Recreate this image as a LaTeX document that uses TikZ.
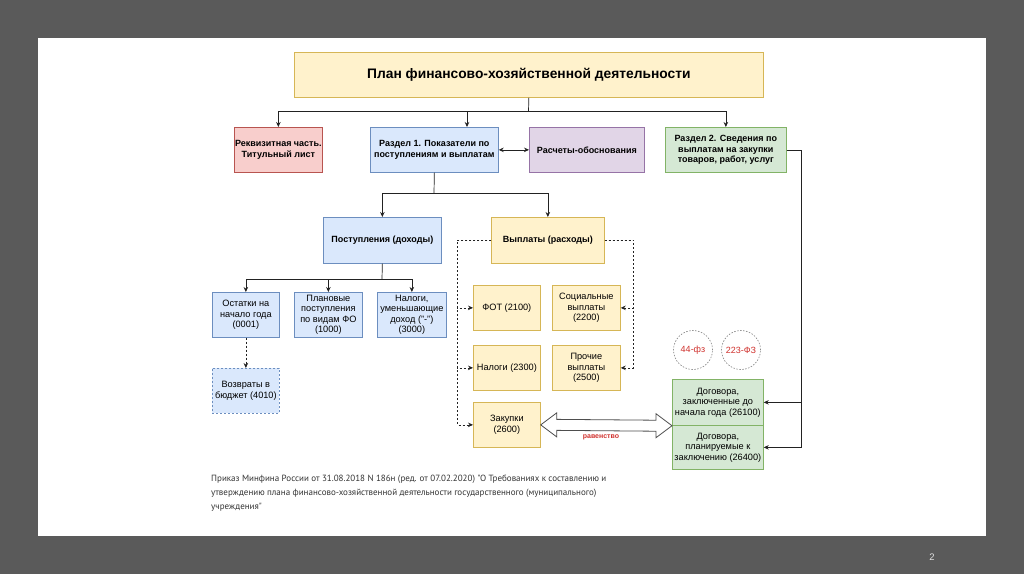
\documentclass[tikz,border=0pt]{standalone}
\usepackage{fontspec}
\setmainfont{Liberation Sans}
\newfontfamily\notefont{PT Sans}
\usetikzlibrary{arrows.meta,calc}
\definecolor{bgdark}{HTML}{5A5A5A}
\definecolor{yfill}{HTML}{FFF2CC}\definecolor{ydraw}{HTML}{D6B656}
\definecolor{rfill}{HTML}{F8CECC}\definecolor{rdraw}{HTML}{B85450}
\definecolor{bfill}{HTML}{DAE8FC}\definecolor{bdraw}{HTML}{6C8EBF}
\definecolor{pfill}{HTML}{E1D5E7}\definecolor{pdraw}{HTML}{9673A6}
\definecolor{gfill}{HTML}{D5E8D4}\definecolor{gdraw}{HTML}{82B366}
\definecolor{redtxt}{HTML}{D0312D}
\definecolor{linec}{HTML}{222222}
\tikzset{
  box/.style={draw, line width=0.7pt, anchor=north west, inner sep=0pt, align=center, font=\fontsize{9.2}{10.5}\selectfont},
  bbox/.style={box, font=\bfseries\fontsize{9}{10.5}\selectfont},
  ybox/.style={fill=yfill, draw=ydraw},
  rbox/.style={fill=rfill, draw=rdraw},
  blbox/.style={fill=bfill, draw=bdraw},
  pbox/.style={fill=pfill, draw=pdraw},
  gbox/.style={fill=gfill, draw=gdraw},
  arr/.style={draw=linec, line width=0.7pt, -{Stealth[length=5pt,width=4.5pt]}},
  arrtwo/.style={draw=linec, line width=0.7pt, {Stealth[length=5pt,width=4.5pt]}-{Stealth[length=5pt,width=4.5pt]}},
  ln/.style={draw=linec, line width=0.7pt},
  darr/.style={arr, dashed, dash pattern=on 2pt off 2pt},
  dln/.style={ln, dashed, dash pattern=on 2pt off 2pt},
  fzcirc/.style={draw=gray, dashed, dash pattern=on 1.5pt off 1.5pt, line width=0.6pt, circle, minimum size=39pt, inner sep=0pt, text=redtxt, font=\fontsize{9}{10}\selectfont}
}
\begin{document}
\begin{tikzpicture}[x=1pt,y=-1pt]
\fill[bgdark] (0,0) rectangle (1024,574);
\fill[white] (38,38) rectangle (986,536);
% title
\node[box, ybox, minimum width=469pt, minimum height=45pt, font=\bfseries\fontsize{13.8}{16}\selectfont] (title) at (294,52) {План финансово-хозяйственной деятельности};
% row 2
\node[bbox, rbox, minimum width=88pt, minimum height=45pt] (rekv) at (234,127) {Реквизитная часть.\\Титульный лист};
\node[bbox, blbox, minimum width=128pt, minimum height=45pt] (r1) at (370,127) {Раздел 1. Показатели по\\поступлениям и выплатам};
\node[bbox, pbox, minimum width=115pt, minimum height=45pt] (rasch) at (529,127) {Расчеты-обоснования};
\node[bbox, gbox, minimum width=121pt, minimum height=45pt] (r2) at (665,127) {Раздел 2. Сведения по\\выплатам на закупки\\товаров, работ, услуг};
% row 3
\node[bbox, blbox, minimum width=118pt, minimum height=46pt] (post) at (323,217) {Поступления (доходы)};
\node[bbox, ybox, minimum width=113pt, minimum height=46pt] (vypl) at (491,217) {Выплаты (расходы)};
% row 4 left
\node[box, blbox, minimum width=67pt, minimum height=45pt] (ost) at (212,292) {Остатки на\\начало года\\(0001)};
\node[box, blbox, minimum width=68pt, minimum height=45pt] (plan) at (294,292) {Плановые\\поступления\\по видам ФО\\(1000)};
\node[box, blbox, minimum width=69pt, minimum height=45pt] (nal) at (377,292) {Налоги,\\уменьшающие\\доход ("-")\\(3000)};
\node[box, blbox, dashed, dash pattern=on 2pt off 2pt, minimum width=67pt, minimum height=45pt] (voz) at (212,368) {Возвраты в\\бюджет (4010)};
% payments
\node[box, ybox, minimum width=67pt, minimum height=45pt] (fot) at (473,285) {ФОТ (2100)};
\node[box, ybox, minimum width=68pt, minimum height=45pt] (soc) at (552,285) {Социальные\\выплаты\\(2200)};
\node[box, ybox, minimum width=67pt, minimum height=45pt] (nal2) at (473,345) {Налоги (2300)};
\node[box, ybox, minimum width=68pt, minimum height=45pt] (proch) at (552,345) {Прочие\\выплаты\\(2500)};
\node[box, ybox, minimum width=67pt, minimum height=45pt] (zak) at (473,402) {Закупки\\(2600)};
% contracts
\node[box, gbox, minimum width=91pt, minimum height=46pt] (dog1) at (672,379) {Договора,\\заключенные до\\начала года (26100)};
\node[box, gbox, minimum width=91pt, minimum height=44pt] (dog2) at (672,425) {Договора,\\планируемые к\\заключению (26400)};
% circles
\node[fzcirc] (fz44) at (693,350) {44-фз};
\node[fzcirc] (fz223) at (741,350) {223-ФЗ};
% connectors
\coordinate (j1) at (528.5,111);
\coordinate (j1b) at (467,111);
\draw[ln] (title.south) -- (j1);
\draw[arr] (j1) -| (rekv.north);
\draw[arr] (j1) -| (r2.north);
\draw[arr] (j1b) -- (j1b |- r1.north);
\draw[arrtwo] (r1.east) -- (rasch.west);
\coordinate (j2) at (434,193);
\draw[ln] (r1.south) -- (j2);
\draw[arr] (j2) -| (post.north);
\draw[arr] (j2) -| (vypl.north);
\coordinate (j3) at (382,279);
\draw[ln] (post.south) -- (j3);
\draw[arr] (j3) -| (ost.north);
\draw[arr] (j3) -| (plan.north);
\draw[arr] (j3) -| (nal.north);
\draw[darr] (ost.south) -- (voz.north);
\draw[darr] (vypl.west) -- ++(-34,0) |- (fot.west);
\draw[darr] (vypl.west) -- ++(-34,0) |- (nal2.west);
\draw[darr] (vypl.west) -- ++(-34,0) |- (zak.west);
\draw[darr] (vypl.east) -- ++(29,0) |- (soc.east);
\draw[darr] (vypl.east) -- ++(29,0) |- (proch.east);
\draw[arr] (r2.east) -- ++(15,0) |- (dog1.east);
\draw[arr] (r2.east) -- ++(15,0) |- (dog2.east);
% hollow double arrow
\coordinate (ha) at (zak.east);
\coordinate (hb) at (dog1.south west);
\draw[line width=0.8pt, draw=linec!80, fill=white]
  (ha) -- ++(16,-12) -- ++(0,6.5) -- ($(hb)+(-16,-5.5)$) -- ++(0,-6.5) -- (hb) -- ++(-16,12) -- ++(0,-6.5) -- ($(ha)+(16,5.5)$) -- ++(0,6.5) -- cycle;
\node[text=redtxt, font=\bfseries\fontsize{7}{8}\selectfont] (rav) at (601,437) {равенство};
% note
\node[anchor=north west, align=left, inner sep=0pt, text=black!80, font=\notefont\fontsize{9}{14}\selectfont] (note) at (211,475) {Приказ Минфина России от 31.08.2018 N 186н (ред. от 07.02.2020) "О Требованиях к составлению и\\утверждению плана финансово-хозяйственной деятельности государственного (муниципального)\\учреждения"};
\node[text=black!12, font=\fontsize{9.5}{10}\selectfont] (pg) at (932,557) {2};
\end{tikzpicture}
\end{document}
